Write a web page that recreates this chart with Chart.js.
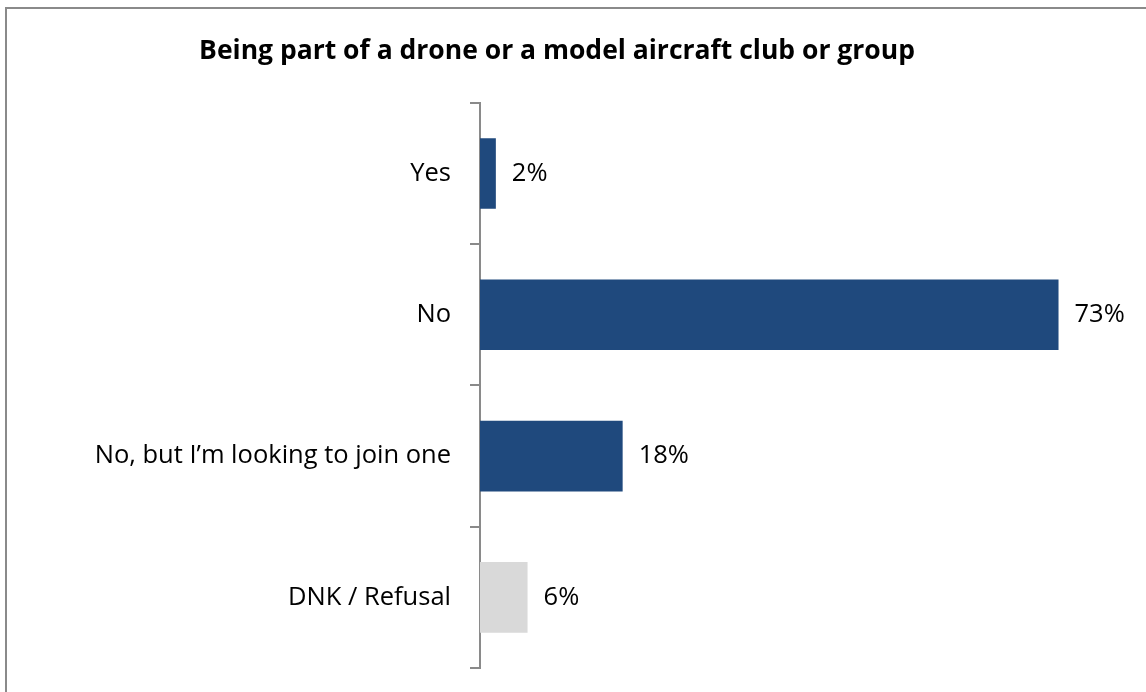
<!DOCTYPE html>
<html>
<head>
<meta charset="utf-8">
<title>Being part of a drone or a model aircraft club or group</title>
<script src="https://cdn.jsdelivr.net/npm/chart.js@4/dist/chart.umd.min.js"></script>
<style>
    html, body { margin: 0; padding: 0; background: #fff; }
    #wrap { position: relative; width: 1146px; height: 692px; }
    #frame {
        position: absolute; left: 5px; top: 7px; right: 0; bottom: 0;
        border-left: 2px solid #8a8a8a; border-top: 2px solid #8a8a8a;
        pointer-events: none;
    }
    canvas { position: absolute; left: 0; top: 0; }
</style>
</head>
<body>
<div id="wrap">
    <canvas id="clubChart" width="1146" height="692"></canvas>
    <div id="frame"></div>
</div>
<script>
// Data
const categories = ['Yes', 'No', 'No, but I\u2019m looking to join one', 'DNK / Refusal'];
const percentages = [2, 73, 18, 6];
const barColors = ['#1f497d', '#1f497d', '#1f497d', '#d9d9d9'];

const fontFamily = "'Open Sans', Lato, 'Liberation Sans', sans-serif";

// Zet de percentages rechts naast de balken
const valueLabels = {
    id: 'valueLabels',
    afterDatasetsDraw(chart) {
        const ctx = chart.ctx;
        const meta = chart.getDatasetMeta(0);
        ctx.save();
        ctx.font = '25.5px ' + fontFamily;
        ctx.fillStyle = '#000';
        ctx.textAlign = 'left';
        ctx.textBaseline = 'middle';
        meta.data.forEach((bar, i) => {
            ctx.fillText(percentages[i] + '%', bar.x + 16, bar.y);
        });
        ctx.restore();
    }
};

const ctx = document.getElementById('clubChart').getContext('2d');
new Chart(ctx, {
    type: 'bar',
    data: {
        labels: categories,
        datasets: [{
            data: percentages,
            backgroundColor: barColors,
            borderWidth: 0,
            barPercentage: 0.5,
            categoryPercentage: 1
        }]
    },
    plugins: [valueLabels],
    options: {
        indexAxis: 'y',
        responsive: false,
        animation: false,
        layout: {
            padding: { left: 0, right: 32, top: 0, bottom: 24 }
        },
        plugins: {
            legend: { display: false },
            tooltip: { enabled: false },
            title: {
                display: true,
                text: 'Being part of a drone or a model aircraft club or group',
                color: '#000',
                font: { family: fontFamily, size: 26.5, weight: 'bold', lineHeight: 1.2 },
                padding: { top: 36, bottom: 35 }
            }
        },
        scales: {
            x: {
                display: false,
                min: 0,
                max: 80
            },
            y: {
                afterFit: function(scale) {
                    // vaste breedte voor de labels, geen extra ruimte boven/onder
                    scale.width = 480;
                    scale.paddingTop = 0;
                    scale.paddingBottom = 0;
                },
                grid: {
                    offset: true,
                    drawOnChartArea: false,
                    drawTicks: true,
                    tickLength: 10,
                    color: '#8a8a8a',
                    lineWidth: 2
                },
                border: {
                    display: true,
                    color: '#8a8a8a',
                    width: 2
                },
                ticks: {
                    color: '#000',
                    padding: 19,
                    font: { family: fontFamily, size: 25.5 }
                }
            }
        }
    }
});
</script>
</body>
</html>
